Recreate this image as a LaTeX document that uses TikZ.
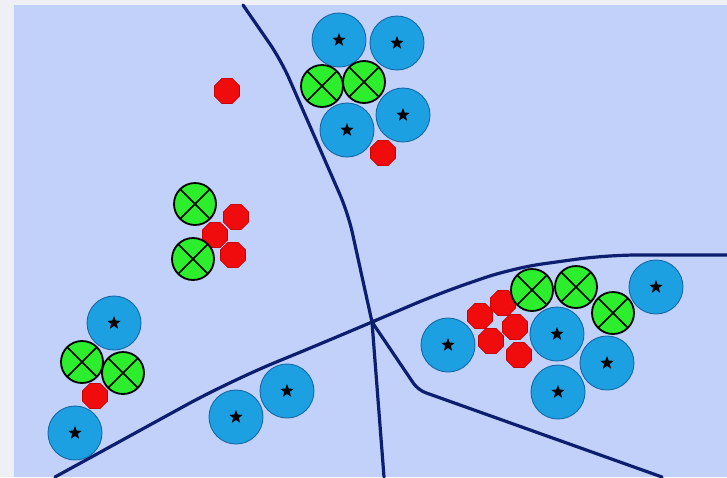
\documentclass[tikz,border=0pt]{standalone}
\usetikzlibrary{shapes.geometric}

\definecolor{outerbg}{RGB}{238,240,246}
\definecolor{field}{RGB}{193,209,250}
\definecolor{wallcol}{RGB}{14,30,110}
\definecolor{bluefill}{RGB}{28,160,226}
\definecolor{blueedge}{RGB}{22,105,165}
\definecolor{greenfill}{RGB}{45,238,45}
\definecolor{redfill}{RGB}{240,12,12}
\definecolor{rededge}{RGB}{200,0,0}

\tikzset{
  wall/.style={draw=wallcol, line width=3.2pt, line join=round, line cap=round, rounded corners=14pt},
  starmark/.style={star, star points=5, star point ratio=2.4, fill=black, inner sep=0pt, minimum size=14pt},
  bluept/.style={circle, fill=bluefill, draw=blueedge, line width=0.9pt,
    minimum size=54pt, inner sep=0pt, label={[starmark]center:{}}},
  greenpt/.style={circle, fill=greenfill, draw=black, line width=1.8pt,
    minimum size=42pt, inner sep=0pt,
    path picture={\draw[black, line width=1.6pt]
      (path picture bounding box.north west) -- (path picture bounding box.south east)
      (path picture bounding box.north east) -- (path picture bounding box.south west);}},
  redpt/.style={regular polygon, regular polygon sides=8, fill=redfill, draw=rededge,
    line width=0.6pt, minimum size=27pt, inner sep=0pt}
}

\begin{document}
\begin{tikzpicture}[x=1pt, y=-1pt]
  % canvas and field
  \fill[outerbg] (0,0) rectangle (727,477);
  \fill[field] (14,5) rectangle (727,477);
  \useasboundingbox (0,0) rectangle (727,477);

  % region boundaries meeting at one hub
  \coordinate (hub) at (372,322);
  \coordinate (topEnd) at (243,5);
  \coordinate (bottomEnd) at (384,477);
  \coordinate (lowRightEnd) at (662,477);
  \coordinate (lowLeftEnd) at (55,477);
  \coordinate (rightEnd) at (727,255);

  \draw[wall, rounded corners=20pt] (topEnd) -- (281,60) -- (348,213) -- (hub);
  \draw[wall] (hub) -- (bottomEnd);
  \draw[wall, rounded corners=8pt] (hub) -- (418,390) -- (lowRightEnd);
  \draw[wall, rounded corners=50pt] (hub) -- (330,340) -- (230,381) -- (lowLeftEnd);
  \draw[wall, rounded corners=30pt] (hub) -- (440,293) -- (513,268) -- (607,255) -- (rightEnd);

  % blue points
  \node[bluept] (b1) at (339,40) {};
  \node[bluept] (b2) at (397,43) {};
  \node[bluept] (b3) at (347,130) {};
  \node[bluept] (b4) at (403,115) {};
  \node[bluept] (b5) at (114,323) {};
  \node[bluept] (b6) at (75,433) {};
  \node[bluept] (b7) at (236,417) {};
  \node[bluept] (b8) at (287,391) {};
  \node[bluept] (b9) at (448,345) {};
  \node[bluept] (b10) at (656,287) {};
  \node[bluept] (b11) at (557,334) {};
  \node[bluept] (b12) at (607,363) {};
  \node[bluept] (b13) at (558,392) {};

  % red points
  \node[redpt] (r1) at (383,153) {};
  \node[redpt] (r2) at (227,91) {};
  \node[redpt] (r3) at (236,217) {};
  \node[redpt] (r4) at (215,235) {};
  \node[redpt] (r5) at (233,255) {};
  \node[redpt] (r6) at (95,396) {};
  \node[redpt] (r7) at (480,316) {};
  \node[redpt] (r8) at (503,303) {};
  \node[redpt] (r9) at (515,327) {};
  \node[redpt] (r10) at (491,341) {};
  \node[redpt] (r11) at (519,355) {};

  % green points
  \node[greenpt] (g1) at (322,86) {};
  \node[greenpt] (g2) at (364,82) {};
  \node[greenpt] (g3) at (195,204) {};
  \node[greenpt] (g4) at (193,259) {};
  \node[greenpt] (g5) at (82,362) {};
  \node[greenpt] (g6) at (123,373) {};
  \node[greenpt] (g7) at (532,290) {};
  \node[greenpt] (g8) at (576,287) {};
  \node[greenpt] (g9) at (613,313) {};
\end{tikzpicture}
\end{document}
